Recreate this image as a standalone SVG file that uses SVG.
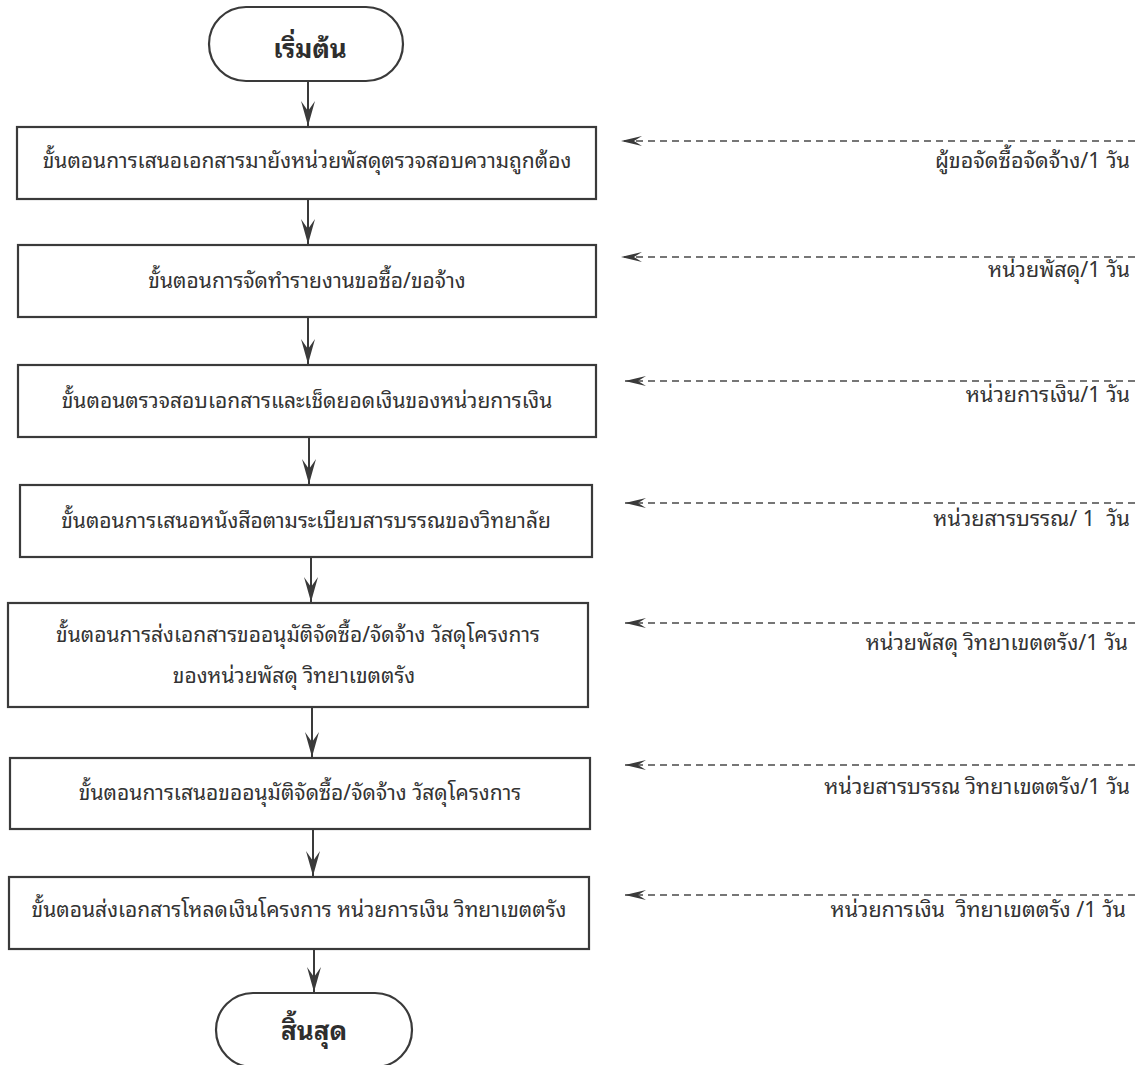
<svg xmlns="http://www.w3.org/2000/svg" width="1139" height="1065" viewBox="0 0 1139 1065">
<defs>
<style>
.box{fill:#fff;stroke:#3a3a3a;stroke-width:2.2}
.t{font-family:"Noto Sans Thai Looped","Noto Sans Thai","Noto Sans","DejaVu Sans",sans-serif;font-size:21px;fill:#333;text-anchor:middle}
.tb{font-family:"Noto Sans Thai Looped","Noto Sans Thai","Noto Sans","DejaVu Sans",sans-serif;font-size:26px;font-weight:bold;fill:#2e2e2e;text-anchor:middle}
.lbl{font-family:"Noto Sans Thai Looped","Noto Sans Thai","Noto Sans","DejaVu Sans",sans-serif;font-size:21.5px;fill:#333;text-anchor:end}
.flow{stroke:#3a3a3a;stroke-width:2;fill:none;marker-end:url(#ah)}
.dash{stroke:#4a4a4a;stroke-width:1.4;fill:none;stroke-dasharray:7 5;marker-end:url(#ah2)}
</style>
<marker id="ah" markerUnits="userSpaceOnUse" viewBox="-26 -8 27 16" refX="0" refY="0" markerWidth="27" markerHeight="16" orient="auto">
<path d="M0,0 L-25,-7 L-15,0 L-25,7 Z" fill="#3a3a3a"/>
</marker>
<marker id="ah2" markerUnits="userSpaceOnUse" viewBox="-22 -6 23 12" refX="0" refY="0" markerWidth="23" markerHeight="12" orient="auto">
<path d="M0,0 L-21,-5 L-13,0 L-21,5 Z" fill="#3a3a3a"/>
</marker>
</defs>
<rect width="1139" height="1065" fill="#fff"/>

<g id="connectors">
<line class="flow" x1="308" y1="81" x2="308" y2="126"/>
<line class="flow" x1="308" y1="199" x2="308" y2="244"/>
<line class="flow" x1="308" y1="317" x2="308" y2="364"/>
<line class="flow" x1="309" y1="437" x2="309" y2="484"/>
<line class="flow" x1="311" y1="557" x2="311" y2="602"/>
<line class="flow" x1="312" y1="707" x2="312" y2="757"/>
<line class="flow" x1="313" y1="829" x2="313" y2="876"/>
<line class="flow" x1="314" y1="949" x2="314" y2="992"/>
<line class="dash" x1="1135" y1="141" x2="621" y2="141"/>
<line class="dash" x1="1135" y1="257" x2="621" y2="257"/>
<line class="dash" x1="1135" y1="381" x2="625" y2="381"/>
<line class="dash" x1="1135" y1="503" x2="625" y2="503"/>
<line class="dash" x1="1135" y1="623" x2="625" y2="623"/>
<line class="dash" x1="1135" y1="765" x2="625" y2="765"/>
<line class="dash" x1="1135" y1="895" x2="625" y2="895"/>
</g>

<g id="start">
<rect class="box" x="209" y="7" width="194" height="74" rx="37"/>
<text class="tb" x="310" y="58">เริ่มต้น</text>
</g>
<g id="step1">
<rect class="box" x="17" y="127" width="579" height="72"/>
<text class="t" x="307" y="168">ขั้นตอนการเสนอเอกสารมายังหน่วยพัสดุตรวจสอบความถูกต้อง</text>
</g>
<g id="step2">
<rect class="box" x="18" y="245" width="578" height="72"/>
<text class="t" x="307" y="288">ขั้นตอนการจัดทำรายงานขอซื้อ/ขอจ้าง</text>
</g>
<g id="step3">
<rect class="box" x="18" y="365" width="578" height="72"/>
<text class="t" x="307" y="408">ขั้นตอนตรวจสอบเอกสารและเช็ดยอดเงินของหน่วยการเงิน</text>
</g>
<g id="step4">
<rect class="box" x="20" y="485" width="572" height="72"/>
<text class="t" x="306" y="528">ขั้นตอนการเสนอหนังสือตามระเบียบสารบรรณของวิทยาลัย</text>
</g>
<g id="step5">
<rect class="box" x="8" y="603" width="580" height="104"/>
<text class="t" x="298" y="642">ขั้นตอนการส่งเอกสารขออนุมัติจัดซื้อ/จัดจ้าง วัสดุโครงการ</text>
<text class="t" x="294" y="683">ของหน่วยพัสดุ วิทยาเขตตรัง</text>
</g>
<g id="step6">
<rect class="box" x="10" y="758" width="580" height="71"/>
<text class="t" x="300" y="800">ขั้นตอนการเสนอขออนุมัติจัดซื้อ/จัดจ้าง วัสดุโครงการ</text>
</g>
<g id="step7">
<rect class="box" x="9" y="877" width="580" height="72"/>
<text class="t" x="299" y="917">ขั้นตอนส่งเอกสารโหลดเงินโครงการ หน่วยการเงิน วิทยาเขตตรัง</text>
</g>
<g id="end">
<rect class="box" x="216" y="993" width="196" height="74" rx="37"/>
<text class="tb" x="314" y="1040">สิ้นสุด</text>
</g>

<g id="labels">
<text class="lbl" x="1130" y="168">ผู้ขอจัดซื้อจัดจ้าง/1 วัน</text>
<text class="lbl" x="1130" y="277">หน่วยพัสดุ/1 วัน</text>
<text class="lbl" x="1130" y="402">หน่วยการเงิน/1 วัน</text>
<text class="lbl" x="1130" y="526" xml:space="preserve">หน่วยสารบรรณ/ 1  วัน</text>
<text class="lbl" x="1128" y="650">หน่วยพัสดุ วิทยาเขตตรัง/1 วัน</text>
<text class="lbl" x="1130" y="794">หน่วยสารบรรณ วิทยาเขตตรัง/1 วัน</text>
<text class="lbl" x="1126" y="917" xml:space="preserve">หน่วยการเงิน  วิทยาเขตตรัง /1 วัน</text>
</g>
</svg>
